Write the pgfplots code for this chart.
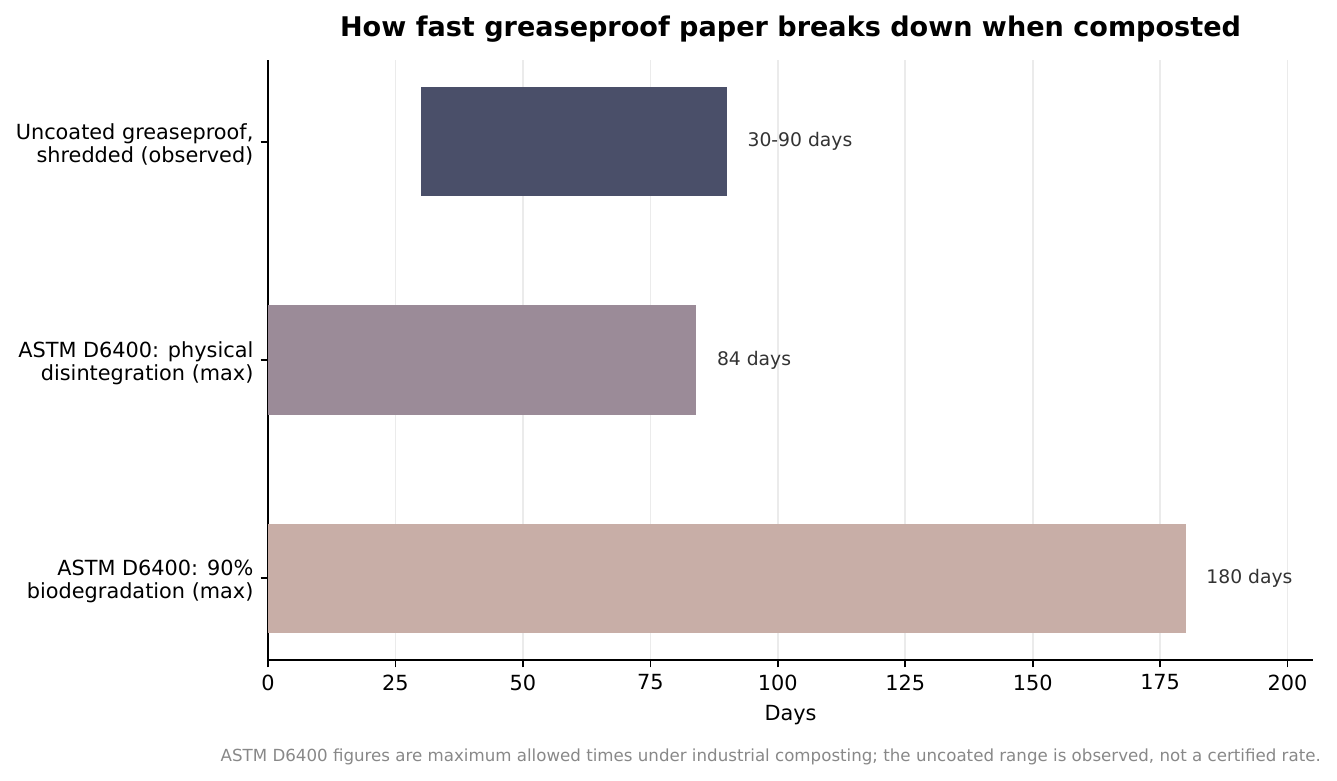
\documentclass[border=0pt]{standalone}
\usepackage{pgfplots}
\pgfplotsset{compat=1.18}
\usepackage{fontspec}
\setmainfont{DejaVu Sans}
\definecolor{barone}{HTML}{4A4F69}
\definecolor{bartwo}{HTML}{9B8B98}
\definecolor{barthree}{HTML}{C8AEA7}
\definecolor{gridgray}{HTML}{EBEBEB}
\definecolor{labelgray}{HTML}{333333}
\definecolor{notegray}{HTML}{888888}

\begin{document}
\begin{tikzpicture}
% picture frame: 1337x781 px at 0.4802pt per px, axis box at (268,60)-(1313,660)
\useasboundingbox (-128.7pt,-58.1pt) rectangle (513.3pt,316.9pt);
\begin{axis}[
    at={(0,0)}, anchor=south west,
    scale only axis,
    width=501.8pt, height=288.1pt,
    xbar stacked,
    bar width=0.5,
    xmin=0, xmax=205,
    ymin=-0.375, ymax=2.375,
    xtick={0,25,...,200},
    ytick={0,1,2},
    yticklabels={{ASTM D6400: 90\%\\biodegradation (max)},
                 {ASTM D6400: physical\\disintegration (max)},
                 {Uncoated greaseproof,\\shredded (observed)}},
    yticklabel style={align=right, font=\fontsize{10}{11}\selectfont, yshift=-1.5pt},
    xticklabel style={font=\fontsize{10}{12}\selectfont},
    /pgf/number format/assume math mode=true,
    tick align=outside,
    major tick length=3.5pt,
    tick style={black, line width=0.8pt},
    axis x line*=bottom,
    axis y line*=left,
    axis line style={black, line width=0.8pt},
    xmajorgrids,
    major grid style={gridgray, line width=0.8pt},
    xlabel={Days},
    xlabel style={font=\fontsize{10}{12}\selectfont, yshift=-0.5pt},
    title={\textbf{How fast greaseproof paper breaks down when composted}},
    title style={font=\fontsize{13}{15}\selectfont, yshift=-1pt},
    clip=false,
]
% invisible offset for the floating range bar
\addplot[draw=none, fill=none] coordinates {(30,2) (0,1) (0,0)};
\addplot[fill=barone, draw=none] coordinates {(60,2) (0,1) (0,0)};
\addplot[fill=bartwo, draw=none] coordinates {(0,2) (84,1) (0,0)};
\addplot[fill=barthree, draw=none] coordinates {(0,2) (0,1) (180,0)};

\node[anchor=west, inner sep=0pt, text=labelgray, font=\fontsize{9}{11}\selectfont] at (axis cs:94,2) {30-90 days};
\node[anchor=west, inner sep=0pt, text=labelgray, font=\fontsize{9}{11}\selectfont] at (axis cs:88,1) {84 days};
\node[anchor=west, inner sep=0pt, text=labelgray, font=\fontsize{9}{11}\selectfont] at (axis cs:184,0) {180 days};
\end{axis}
\node[anchor=east, inner sep=0pt, text=notegray, font=\fontsize{8}{10}\selectfont] at (505.7pt,-46.6pt)
    {ASTM D6400 figures are maximum allowed times under industrial composting; the uncoated range is observed, not a certified rate.};
\end{tikzpicture}
\end{document}
